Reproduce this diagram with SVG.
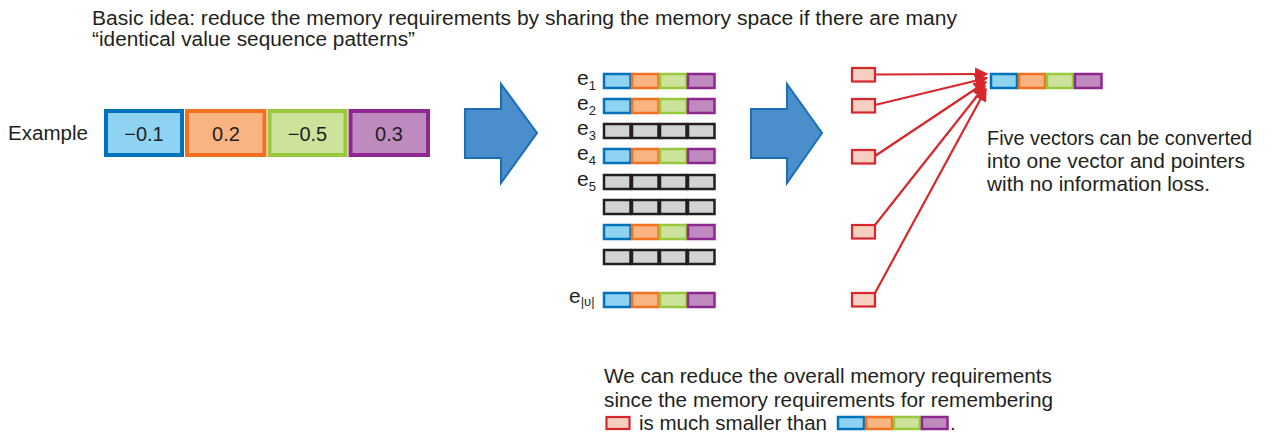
<svg xmlns="http://www.w3.org/2000/svg" width="1274" height="433" viewBox="0 0 1274 433">
<defs>
<style>
text{font-family:"Liberation Sans",Arial,sans-serif;fill:#231f20;}
.t{font-size:20px;}
.b{fill:#8ed3f2;stroke:#0071bb;}
.o{fill:#f9b482;stroke:#f27022;}
.g{fill:#cde29b;stroke:#98c93c;}
.p{fill:#bf8bbf;stroke:#8e278f;}
.k{fill:#d1d3d4;stroke:#231f20;}
.c{stroke-width:2.5;}
.ptr{fill:#f5cfc0;stroke:#d7272c;stroke-width:2.2;}
.big{stroke-width:4;}
.bigarrow{fill:#4a8ecc;stroke:#1a6fb6;stroke-width:2;}
.ln{stroke:#d7272c;stroke-width:2.2;fill:none;marker-end:url(#ah);}
.e{font-size:21px;}
.s{font-size:13px;}
</style>
<marker id="ah" viewBox="0 0 10 10" refX="9" refY="5" markerWidth="6" markerHeight="6" orient="auto" markerUnits="strokeWidth">
<path d="M0,0 L10,5 L0,10 z" fill="#d7272c"/>
</marker>
<g id="vec">
<rect class="b c" x="604" y="0" width="26.5" height="14"/>
<rect class="o c" x="632" y="0" width="26.5" height="14"/>
<rect class="g c" x="660" y="0" width="26.5" height="14"/>
<rect class="p c" x="688" y="0" width="26.5" height="14"/>
</g>
<g id="gvec">
<rect class="k c" x="604" y="0" width="26.5" height="14"/>
<rect class="k c" x="632" y="0" width="26.5" height="14"/>
<rect class="k c" x="660" y="0" width="26.5" height="14"/>
<rect class="k c" x="688" y="0" width="26.5" height="14"/>
</g>
</defs>
<rect width="1274" height="433" fill="#fff"/>

<g id="title">
<text class="t" x="92" y="25" textLength="865" lengthAdjust="spacingAndGlyphs">Basic idea: reduce the memory requirements by sharing the memory space if there are many</text>
<text class="t" x="92" y="46" textLength="323" lengthAdjust="spacingAndGlyphs">“identical value sequence patterns”</text>
</g>

<g id="example">
<text class="t" x="8" y="140" textLength="80" lengthAdjust="spacingAndGlyphs">Example</text>
<rect class="b big" x="106" y="111" width="76" height="44"/>
<rect class="o big" x="187" y="111" width="77.5" height="44"/>
<rect class="g big" x="269.5" y="111" width="76" height="44"/>
<rect class="p big" x="350.5" y="111" width="77.5" height="44"/>
<text class="t" x="144" y="140.5" text-anchor="middle">−0.1</text>
<text class="t" x="226" y="140.5" text-anchor="middle">0.2</text>
<text class="t" x="307.5" y="140.5" text-anchor="middle">−0.5</text>
<text class="t" x="389" y="140.5" text-anchor="middle">0.3</text>
</g>

<g id="arrow1">
<path class="bigarrow" d="M465,109 L501,109 L501,84 L537,133 L501,183 L501,158 L465,158 z"/>
</g>
<g id="arrow2">
<path class="bigarrow" d="M751,109 L787,109 L787,84 L822,133 L787,183 L787,158 L751,158 z"/>
</g>

<g id="embeddings">
<use href="#vec" y="74"/>
<use href="#vec" y="99"/>
<use href="#gvec" y="124"/>
<use href="#vec" y="149"/>
<use href="#gvec" y="175"/>
<use href="#gvec" y="200"/>
<use href="#vec" y="225"/>
<use href="#gvec" y="250"/>
<use href="#vec" y="293"/>
<text class="e" x="577" y="85">e<tspan class="s" dy="4.5">1</tspan></text>
<text class="e" x="577" y="110">e<tspan class="s" dy="4.5">2</tspan></text>
<text class="e" x="577" y="135">e<tspan class="s" dy="4.5">3</tspan></text>
<text class="e" x="577" y="160">e<tspan class="s" dy="4.5">4</tspan></text>
<text class="e" x="577" y="186">e<tspan class="s" dy="4.5">5</tspan></text>
<text class="e" x="569" y="303">e<tspan class="s" dy="3">|υ|</tspan></text>
</g>

<g id="shared">
<rect class="b c" x="991" y="74" width="26" height="14"/>
<rect class="o c" x="1019" y="74" width="26" height="14"/>
<rect class="g c" x="1047" y="74" width="26" height="14"/>
<rect class="p c" x="1075" y="74" width="26.5" height="14"/>
</g>

<g id="pointers">
<rect class="ptr" x="852" y="68" width="23" height="13.5"/>
<rect class="ptr" x="852" y="99" width="23" height="13.5"/>
<rect class="ptr" x="852" y="150" width="23" height="13.5"/>
<rect class="ptr" x="852" y="225" width="23" height="13.5"/>
<rect class="ptr" x="852" y="293" width="23" height="13.5"/>
</g>

<g id="connectors">
<line class="ln" x1="875" y1="74.5" x2="987" y2="74"/>
<line class="ln" x1="875" y1="105" x2="987" y2="78"/>
<line class="ln" x1="875" y1="156" x2="986" y2="82"/>
<line class="ln" x1="875" y1="225" x2="985" y2="86"/>
<line class="ln" x1="875" y1="293" x2="986" y2="89"/>
</g>

<g id="note1">
<text class="t" x="987" y="145" textLength="265" lengthAdjust="spacingAndGlyphs">Five vectors can be converted</text>
<text class="t" x="987" y="168" textLength="258" lengthAdjust="spacingAndGlyphs">into one vector and pointers</text>
<text class="t" x="987" y="191" textLength="223" lengthAdjust="spacingAndGlyphs">with no information loss.</text>
</g>

<g id="note2">
<text class="t" x="604" y="383" textLength="448" lengthAdjust="spacingAndGlyphs">We can reduce the overall memory requirements</text>
<text class="t" x="604" y="406.5" textLength="449" lengthAdjust="spacingAndGlyphs">since the memory requirements for remembering</text>
<rect class="ptr" x="606.5" y="417" width="23" height="12"/>
<text class="t" x="639" y="430" textLength="188" lengthAdjust="spacingAndGlyphs">is much smaller than</text>
<rect class="b c" x="838" y="417" width="26" height="12"/>
<rect class="o c" x="866" y="417" width="26" height="12"/>
<rect class="g c" x="894" y="417" width="26" height="12"/>
<rect class="p c" x="922" y="417" width="25.5" height="12"/>
<text class="t" x="950" y="430">.</text>
</g>
</svg>
